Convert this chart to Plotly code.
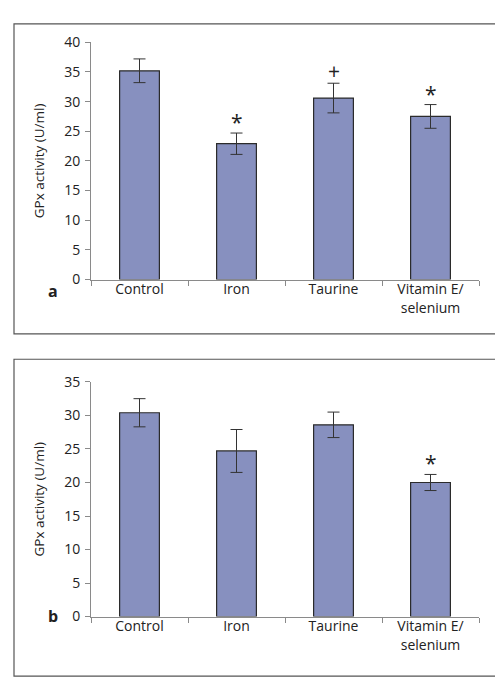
import plotly.graph_objects as go

categories = ["Control", "Iron", "Taurine", "Vitamin E/<br>selenium"]
a_values = [35.2, 22.9, 30.6, 27.5]
a_errors = [2.0, 1.8, 2.5, 2.0]
a_marks = ["", "*", "+", "*"]
b_values = [30.4, 24.7, 28.6, 20.0]
b_errors = [2.1, 3.2, 1.9, 1.2]
b_marks = ["", "", "", "*"]
a_ticks = [0, 5, 10, 15, 20, 25, 30, 35, 40]
b_ticks = [0, 5, 10, 15, 20, 25, 30, 35]

W, H = 503, 684
FONT = "Open Sans"
BAR = "#8790bf"
AX = "#8a8a8a"

fig = go.Figure()

panels = [
    ("x", "y", a_values, a_errors, a_marks),
    ("x2", "y2", b_values, b_errors, b_marks),
]
for xa, ya, vals, errs, marks in panels:
    fig.add_trace(go.Bar(
        x=categories, y=vals, xaxis=xa, yaxis=ya,
        marker=dict(color=BAR, line=dict(color="#2b2b2b", width=1.2)),
        width=0.41,
        error_y=dict(type="data", array=errs, visible=True, color="#333333",
                     thickness=1, width=6),
        showlegend=False, hoverinfo="skip",
    ))
    for c, v, e, m in zip(categories, vals, errs, marks):
        if m:
            fig.add_annotation(x=c, y=v + e, xref=xa, yref=ya, text=m,
                               showarrow=False, yanchor="middle",
                               yshift=12 if m == "+" else 11,
                               font=dict(family=FONT, size=21, color="#222"))

xd = [83 / W, 471 / W]
common_x = dict(type="category", tickson="boundaries", ticks="outside",
                ticklen=5, tickcolor=AX, showline=True, linecolor=AX,
                linewidth=1, showgrid=False, range=[-0.5, 3.5],
                tickfont=dict(family=FONT, size=14, color="#222"),
                ticklabelstandoff=-3,
                domain=xd)
common_y = dict(ticks="outside", ticklen=5, tickcolor=AX, showline=True,
                linecolor=AX, linewidth=1, showgrid=False, zeroline=False,
                tickfont=dict(family=FONT, size=14, color="#222"),
                ticklabelstandoff=2,
                title=dict(text="GPx activity (U/ml)",
                           font=dict(family=FONT, size=13.5, color="#222"),
                           standoff=16))

fig.update_layout(
    width=W, height=H, margin=dict(l=0, r=0, t=0, b=0),
    paper_bgcolor="white", plot_bgcolor="white",
    xaxis=dict(anchor="y", **common_x),
    xaxis2=dict(anchor="y2", **common_x),
    yaxis=dict(anchor="x", domain=[1 - 269 / H, 1 - 25 / H], range=[0, 40],
               tickvals=a_ticks, **common_y),
    yaxis2=dict(anchor="x2", domain=[1 - 615.7 / H, 1 - 374.3 / H],
                range=[0, 35], tickvals=b_ticks, **common_y),
    bargap=0.59,
)

# panel frames
for y0, y1 in [(6, 325), (351, 677)]:
    fig.add_shape(type="rect", xref="paper", yref="paper",
                  x0=6 / W, x1=497 / W, y0=1 - y1 / H, y1=1 - y0 / H,
                  line=dict(color="#555555", width=1.2), fillcolor="rgba(0,0,0,0)")

for letter, yp in [("a", 281), ("b", 628)]:
    fig.add_annotation(x=38 / W, y=1 - yp / H, xref="paper", yref="paper",
                       text="<b>" + letter + "</b>", showarrow=False,
                       font=dict(family=FONT, size=16, color="#222"))

fig.write_html("out.html")
